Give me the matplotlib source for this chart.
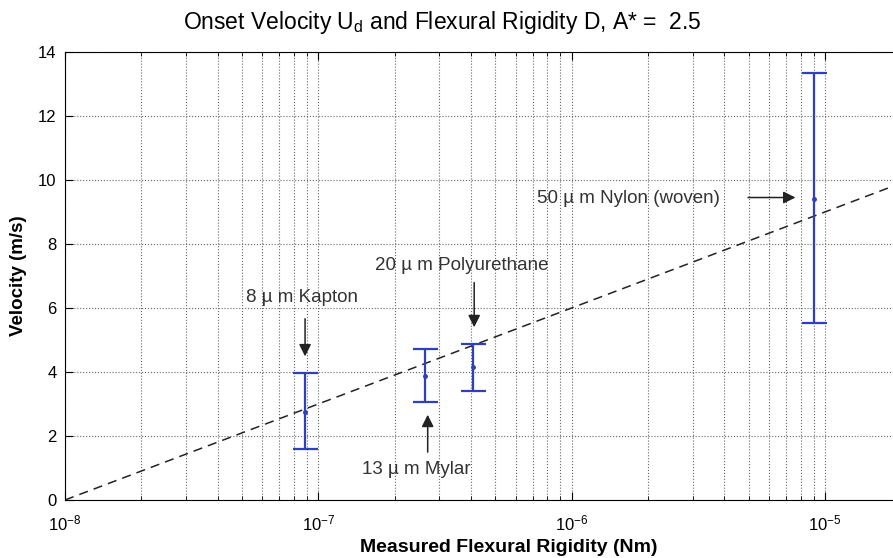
import numpy as np
import matplotlib
matplotlib.use('Agg')
import matplotlib.pyplot as plt
from matplotlib.ticker import LogLocator, NullFormatter

plt.rcParams['font.family'] = ['Liberation Sans', 'DejaVu Sans']
plt.rcParams['mathtext.fontset'] = 'custom'
plt.rcParams['mathtext.rm'] = 'Liberation Sans'
plt.rcParams['mathtext.it'] = 'Liberation Sans'

# measured flexural rigidity (Nm) and onset velocity (m/s)
materials = ['8 \u00b5 m Kapton', '13 \u00b5 m Mylar', '20 \u00b5 m Polyurethane', '50 \u00b5 m Nylon (woven)']
rigidity = [8.86e-8, 2.64e-7, 4.09e-7, 9.06e-6]
velocity = [2.76, 3.88, 4.15, 9.41]
vel_low = [1.60, 3.07, 3.41, 5.53]
vel_high = [3.98, 4.71, 4.88, 13.34]

# dashed fit line
fit_D = [1e-8, 3.16e-5]
fit_U = [0.0, 10.5]

# annotation text positions (data coords) and arrow tails/heads
text_xy = [(8.6e-8, 6.34), (2.43e-7, 0.94), (3.69e-7, 7.34), (1.67e-6, 9.41)]
arrow_tail = [(8.86e-8, 5.75), (2.70e-7, 1.41), (4.12e-7, 6.88), (4.84e-6, 9.45)]
arrow_head = [(8.86e-8, 4.40), (2.70e-7, 2.75), (4.12e-7, 5.31), (7.83e-6, 9.45)]

fig = plt.figure(figsize=(8.93, 5.58), dpi=100)
ax = fig.add_axes([0.0728, 0.104, 0.993, 0.803])

ax.plot(fit_D, fit_U, '--', color='#222222', lw=1.1, dashes=(6, 4))

yerr = [np.array(velocity) - np.array(vel_low), np.array(vel_high) - np.array(velocity)]
ax.errorbar(rigidity, velocity, yerr=yerr, fmt='.', color='#2e3fbf', ms=5,
            capsize=9, elinewidth=1.6, capthick=1.6)

for name, txy, tail, head in zip(materials, text_xy, arrow_tail, arrow_head):
    ax.annotate('', xy=head, xytext=tail,
                arrowprops=dict(arrowstyle='-|>', color='#222222', lw=1.1, mutation_scale=18))
    ax.text(txy[0], txy[1], name, ha='center', va='center', fontsize=13.5, color='#333333')

ax.set_xscale('log')
ax.set_xlim(1e-8, 3.16e-5)
ax.set_ylim(0, 14)
ax.set_yticks(np.arange(0, 15, 2))
ax.set_xticks([1e-8, 1e-7, 1e-6, 1e-5])
ax.set_xticklabels(['10$^{-8}$', '10$^{-7}$', '10$^{-6}$', '10$^{-5}$'])
ax.xaxis.set_minor_locator(LogLocator(base=10, subs=np.arange(2, 10)))
ax.xaxis.set_minor_formatter(NullFormatter())
ax.tick_params(which='both', direction='in', top=True, right=False, labelsize=12)
ax.tick_params(which='major', length=6)
ax.tick_params(which='minor', length=3)
ax.tick_params(axis='x', which='major', pad=10)
ax.tick_params(axis='y', which='major', pad=6)

ax.grid(True, which='major', ls=':', color='#666666', lw=0.8)
ax.grid(True, which='minor', axis='x', ls=':', color='#666666', lw=0.8)
ax.spines['right'].set_visible(False)

ax.set_xlabel('Measured Flexural Rigidity (Nm)', fontsize=14, fontweight='bold', labelpad=4)
ax.set_ylabel('Velocity (m/s)', fontsize=13.5, fontweight='bold', labelpad=8)
fig.text(0.495, 0.96, 'Onset Velocity U$_{d}$ and Flexural Rigidity D, A* =  2.5',
         ha='center', va='center', fontsize=16.5)

fig.savefig('out.png', dpi=100)
